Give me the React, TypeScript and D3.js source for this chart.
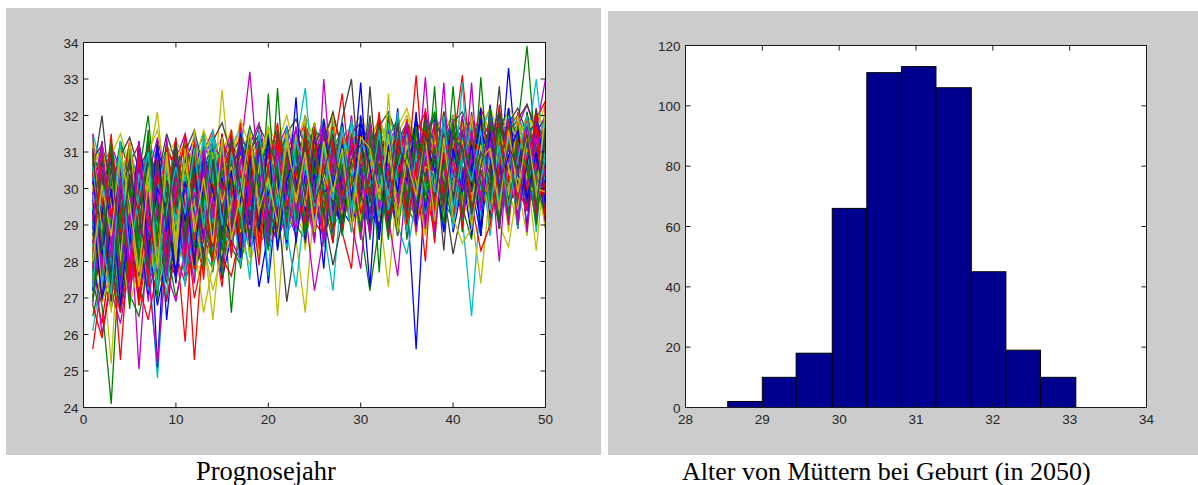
import React from "react";
import * as d3 from "d3";

// ---------- Left chart: 50 projection years, simulated runs (values read/estimated from picture) ----------
const years: number[] = d3.range(1, 51);
const yTicksLeft: number[] = [24, 25, 26, 27, 28, 29, 30, 31, 32, 33, 34];
const xTicksLeft: number[] = [0, 10, 20, 30, 40, 50];
const runColors: string[] = ["#0000FF", "#008000", "#FF0000", "#00BFBF", "#BF00BF", "#BFBF00", "#404040"];

const simulationRuns: number[][] = [
  [29.4,28.1,30.2,29.0,28.5,30.6,29.1,28.4,29.9,30.3,29.2,30.5,28.9,29.8,30.9,29.5,28.8,30.4,31.0,29.7,30.6,29.4,31.2,30.1,29.6,30.8,31.4,29.9,30.5,31.1,30.2,29.5,31.0,30.6,29.8,25.6,30.4,31.3,30.1,30.9,29.6,31.2,30.7,30.0,31.5,30.3,29.9,31.1,30.6,31.4],
  [27.9,26.8,24.1,28.6,29.3,27.8,29.9,28.7,30.1,29.2,28.5,30.0,29.4,28.3,30.7,29.6,30.2,29.0,30.8,31.3,29.9,30.4,31.0,29.7,30.9,30.2,29.4,31.1,30.6,29.8,31.2,30.5,29.9,31.4,30.8,30.1,31.0,29.6,30.7,31.5,30.3,29.8,31.2,30.6,30.0,31.3,30.9,30.2,31.6,30.5],
  [25.6,27.5,28.9,27.2,29.6,28.4,30.2,29.1,27.9,30.5,29.3,25.3,28.8,30.1,29.0,30.6,29.5,28.7,30.3,29.9,31.0,30.2,29.3,30.7,31.2,29.8,30.4,31.5,30.0,29.6,30.8,31.3,30.1,29.7,31.0,30.6,29.9,31.4,30.5,31.1,30.2,30.9,31.6,30.4,29.8,31.3,30.7,32.0,30.9,31.7],
  [30.9,29.5,30.4,28.8,29.9,30.7,28.2,24.8,28.6,29.8,30.4,29.1,30.0,30.9,29.3,28.6,30.5,29.8,31.1,30.2,29.5,31.0,30.3,29.7,30.8,31.3,30.0,29.4,31.2,30.6,29.9,30.7,31.4,30.2,29.6,30.9,31.2,30.4,29.8,31.0,30.6,30.0,31.3,29.7,30.8,31.5,30.3,29.9,31.1,30.4],
  [28.7,30.1,29.2,28.0,29.5,25.05,28.9,30.3,29.6,28.4,29.9,30.6,29.2,28.8,30.4,29.7,31.0,33.2,30.1,29.4,30.6,31.2,29.8,30.3,31.0,30.5,29.6,30.9,31.4,30.1,30.7,29.9,30.4,31.3,30.8,30.0,31.1,30.5,29.7,31.2,31.0,30.3,29.9,31.4,30.7,30.2,31.5,30.8,30.1,31.2],
  [29.8,28.2,25.2,29.4,30.6,29.0,28.5,30.1,29.3,30.8,29.5,28.6,30.2,29.7,32.7,30.0,29.2,30.5,31.0,29.8,30.3,29.5,30.9,31.4,30.1,29.7,30.6,31.1,30.2,30.8,31.3,30.4,29.8,30.7,31.2,30.0,30.5,31.4,29.9,30.6,31.1,30.5,29.9,30.8,31.5,30.2,30.9,31.3,30.4,30.0],
  [30.3,32.0,29.6,30.8,28.9,29.7,30.5,29.2,30.0,29.4,30.7,29.9,28.8,30.3,29.6,30.9,30.1,29.5,30.6,31.2,29.8,30.5,31.1,30.0,29.4,30.9,31.3,30.2,29.7,30.8,31.0,30.3,29.6,31.2,30.5,29.9,31.1,30.6,30.0,31.4,30.1,30.8,31.2,29.7,30.6,31.3,30.4,30.9,31.5,30.2],
  [28.3,29.5,27.6,30.2,29.0,28.1,30.4,25.1,29.7,28.9,30.2,29.4,30.8,29.1,28.7,30.5,29.8,31.0,29.3,30.1,30.8,29.6,30.2,31.3,29.9,30.4,31.0,29.5,30.7,31.2,29.8,30.9,31.5,30.3,29.7,30.6,31.2,30.0,31.3,30.5,29.9,31.0,30.6,31.4,30.2,33.3,30.4,30.7,31.1,30.3],
  [30.5,29.1,28.4,29.9,30.7,29.4,28.6,30.0,29.2,30.4,28.9,29.8,30.6,29.5,30.2,31.0,29.7,30.4,29.1,30.8,31.3,30.0,29.6,30.9,31.4,30.3,29.8,31.2,30.7,30.1,30.6,31.3,30.2,29.9,31.0,30.5,31.4,30.1,30.8,29.7,31.2,30.6,30.0,31.3,30.9,30.4,31.7,33.9,30.8,31.4],
  [29.1,30.4,28.6,25.3,28.8,30.0,29.5,28.3,30.6,29.2,30.0,29.3,30.7,29.8,29.1,30.4,31.1,29.6,30.2,30.9,29.7,30.6,31.2,30.1,29.5,31.0,30.5,29.9,31.3,30.4,30.0,31.1,30.7,29.8,30.9,31.4,30.2,29.6,30.8,31.2,33.1,30.5,29.9,31.2,30.6,31.5,30.1,30.8,31.3,30.0],
  [27.4,28.8,30.1,29.3,27.7,29.6,30.5,28.9,29.4,30.2,29.6,30.4,28.9,30.1,29.7,30.6,29.3,30.9,30.3,29.8,30.5,31.1,29.7,30.2,30.8,29.9,31.3,30.6,30.0,31.0,30.4,29.8,30.9,31.2,30.3,29.7,30.6,31.3,30.1,30.7,29.2,26.5,29.8,31.0,30.4,30.9,31.4,30.2,30.7,31.3],
  [29.9,28.6,29.4,30.5,28.3,29.8,29.0,30.3,28.7,29.6,30.5,29.0,29.7,30.8,30.2,29.4,30.7,29.9,31.2,30.4,29.9,30.8,30.3,29.6,31.1,30.7,30.1,29.8,30.9,31.4,30.2,30.8,29.5,31.0,31.5,30.4,29.9,30.7,31.2,30.3,30.8,31.3,30.2,29.9,31.1,30.5,31.0,30.3,31.6,33.0],
  [28.0,29.3,30.5,28.7,29.8,28.5,30.7,32.1,29.5,28.8,29.7,30.2,29.0,30.6,29.4,30.0,30.8,29.5,30.4,31.0,30.2,29.8,30.7,31.2,30.0,30.5,29.7,31.1,30.6,30.2,30.9,31.3,30.1,30.5,29.9,31.0,30.7,30.3,31.1,30.6,30.1,29.3,27.4,30.0,30.8,31.2,30.4,30.9,31.3,30.6],
  [28.9,27.6,29.0,30.1,28.4,29.5,28.7,29.9,30.6,29.3,28.8,30.1,29.5,28.9,30.4,29.8,30.5,30.0,29.4,30.7,31.0,30.4,29.8,30.6,31.3,30.2,29.9,30.8,31.2,30.5,29.9,30.6,31.1,30.3,30.8,31.3,30.0,29.7,31.0,30.4,30.9,31.4,30.3,30.7,29.9,31.2,30.6,31.1,30.2,30.8],
  [30.6,29.2,28.7,29.8,30.3,28.6,29.4,30.2,26.4,29.0,30.3,28.7,29.6,30.5,29.9,29.2,30.1,30.7,29.6,30.3,29.5,30.3,31.0,30.6,29.7,31.2,30.4,30.0,31.0,29.8,30.5,31.2,30.0,30.7,31.3,29.9,30.6,31.1,30.4,29.8,30.7,31.1,30.5,30.2,31.3,30.8,29.9,31.2,30.5,31.0],
  [29.5,28.4,29.8,27.9,29.1,30.4,32.0,29.3,28.5,29.7,30.1,29.5,30.9,29.2,30.3,26.6,29.5,30.2,30.8,29.7,30.4,31.0,30.1,29.5,30.7,31.3,30.3,29.8,30.4,31.1,30.6,30.0,31.2,30.8,30.2,30.7,29.8,31.2,30.6,30.1,31.3,30.7,30.1,30.9,31.4,29.8,30.6,31.5,30.2,30.9],
  [28.5,30.0,29.3,28.2,30.2,29.1,27.9,29.6,30.3,28.7,25.8,29.6,30.3,29.4,30.7,29.9,29.2,30.6,30.0,31.1,30.2,29.6,30.5,31.1,30.3,29.8,30.9,31.2,29.9,30.6,31.2,30.4,29.8,30.9,30.3,31.1,30.7,29.9,31.3,30.5,30.4,31.0,30.6,31.3,30.0,30.7,31.2,30.4,29.8,31.5],
  [29.2,30.5,28.5,29.6,28.1,30.0,29.2,28.6,30.1,29.5,29.0,30.2,29.7,28.9,30.5,30.1,29.4,30.3,31.0,29.6,30.1,30.7,29.9,31.1,30.4,29.6,30.8,30.3,31.2,30.0,30.7,31.1,30.3,29.6,30.9,30.4,31.2,30.8,30.1,30.9,30.5,30.2,30.8,31.4,30.3,30.9,30.4,31.2,33.0,30.6],
  [27.8,29.0,30.3,29.1,28.6,29.9,28.4,29.7,29.0,30.5,29.4,30.8,29.2,30.3,29.5,30.6,30.0,29.6,30.8,29.9,30.7,30.1,29.6,30.8,30.4,31.1,29.8,30.6,30.1,31.3,30.3,29.8,30.9,31.3,30.1,30.6,29.9,31.2,30.5,30.8,31.1,30.4,30.9,30.2,31.0,31.3,30.6,30.0,30.8,31.4],
  [29.6,28.3,29.9,28.8,30.1,29.4,28.6,30.0,29.3,28.9,30.2,29.7,28.8,30.4,29.1,30.0,30.6,29.3,30.1,30.5,26.5,29.8,30.5,29.9,31.0,30.3,29.7,30.9,31.1,30.2,29.8,30.7,31.2,30.4,30.0,31.0,30.5,29.9,31.3,30.6,30.2,31.0,30.5,29.8,31.1,30.6,31.3,30.4,28.3,30.9],
  [29.0,30.2,28.1,29.4,30.0,28.9,29.8,28.5,29.9,30.7,29.5,28.9,30.4,29.7,29.2,30.8,29.6,30.2,29.0,30.5,30.1,29.7,30.9,30.3,29.8,30.5,31.1,30.0,30.7,29.9,30.8,30.2,29.7,31.1,30.5,30.0,30.8,31.4,30.2,29.9,31.0,30.5,31.2,30.1,30.6,29.9,31.1,30.7,31.0,30.3],
  [27.0,28.4,26.9,28.9,27.6,29.2,28.1,27.5,29.0,28.3,29.4,28.6,29.9,28.8,30.2,29.5,28.7,29.8,30.4,29.2,30.0,29.4,30.6,29.9,30.3,29.5,30.8,30.2,29.6,30.5,30.1,29.7,30.6,31.0,29.8,30.4,30.9,29.6,30.3,31.0,30.0,30.6,29.5,30.8,30.3,31.1,29.9,30.5,31.2,29.8],
  [28.8,27.3,28.5,26.6,28.7,27.9,29.4,28.2,27.4,29.1,28.3,29.6,28.9,29.9,28.6,29.5,30.0,28.8,29.7,30.3,29.4,30.1,29.6,30.7,29.9,30.4,29.3,30.6,30.9,29.7,30.4,30.9,29.8,30.3,31.1,30.0,29.6,30.7,31.2,30.2,29.8,30.6,31.1,30.0,29.6,30.8,31.3,30.1,30.7,29.9],
  [27.5,26.3,28.2,27.0,28.9,26.8,28.4,27.7,29.2,28.0,28.7,27.6,29.3,28.5,29.8,28.9,29.5,30.1,28.8,29.6,30.3,29.5,30.0,29.2,30.6,30.1,29.7,30.9,30.3,29.6,30.5,29.9,30.8,30.2,29.7,30.9,30.4,29.8,30.6,31.1,30.3,29.7,30.8,31.2,30.1,29.8,30.6,31.0,30.2,29.5],
  [26.1,27.8,28.6,27.4,29.0,28.1,27.2,28.8,27.9,29.3,28.4,29.1,28.0,29.6,28.7,29.9,29.2,28.6,30.0,29.4,29.0,30.2,29.7,30.5,29.4,30.0,30.7,29.6,30.3,30.8,29.9,30.5,30.1,29.6,30.7,31.0,30.2,30.6,29.9,30.4,31.0,30.3,29.7,30.5,30.9,30.1,30.6,29.9,30.4,31.1],
  [28.3,26.0,27.6,28.8,27.2,28.5,27.7,25.2,28.3,27.9,29.0,28.2,29.5,28.7,28.1,29.3,28.9,29.8,29.1,29.7,29.3,30.0,29.6,29.1,30.4,29.8,30.2,29.5,30.7,30.0,29.6,30.3,30.8,29.9,30.4,29.7,30.6,30.1,29.5,30.7,30.2,29.6,30.4,30.9,29.8,30.3,30.8,29.6,30.4,30.0],
  [29.2,27.7,28.9,27.3,28.6,29.5,27.8,29.0,28.4,29.6,28.2,29.3,28.7,26.4,29.0,28.5,29.4,29.9,28.8,30.1,29.4,29.9,30.4,29.5,30.1,29.6,30.5,29.8,30.2,29.4,30.6,30.1,29.5,30.7,30.3,29.8,30.2,30.9,30.4,29.7,30.5,30.9,30.2,29.6,30.7,30.1,29.5,30.6,29.9,30.4],
  [27.2,28.6,27.9,26.7,28.4,27.5,29.0,28.1,26.9,28.7,28.0,28.9,29.4,28.3,29.6,28.8,29.3,28.6,29.9,29.2,29.7,29.1,30.0,29.6,29.2,30.3,29.8,30.1,29.4,30.5,30.0,29.5,30.4,30.8,29.7,30.2,29.9,30.6,31.0,29.8,30.4,30.8,29.9,30.3,30.6,29.5,30.2,30.7,30.0,30.5],
  [29.7,30.8,29.4,30.5,29.8,30.9,29.6,31.1,30.2,29.5,30.7,31.4,30.3,29.9,31.2,30.5,31.0,30.2,31.5,30.8,30.4,31.3,30.7,31.6,30.9,30.2,31.4,30.8,31.2,31.7,30.6,31.3,31.0,30.5,31.5,30.9,31.8,31.2,30.7,31.4,31.0,31.7,30.8,31.3,31.9,31.1,30.6,31.5,31.8,31.2],
  [31.0,30.2,29.8,31.3,30.4,29.6,30.9,30.1,31.2,30.5,29.9,30.8,31.5,30.4,30.0,31.1,30.6,31.7,30.9,30.3,31.2,30.6,31.5,30.9,31.8,30.5,31.1,31.6,30.8,31.3,31.7,30.9,31.4,31.9,30.8,31.2,31.6,30.9,31.5,32.0,31.1,31.6,31.3,30.9,31.7,32.1,31.2,31.6,30.9,31.4],
  [30.1,31.1,30.4,29.5,30.7,31.2,30.0,29.8,31.0,30.6,31.3,30.5,31.0,31.6,30.4,31.2,30.8,31.4,30.3,31.1,31.5,30.7,31.2,31.8,30.9,31.4,32.0,31.1,31.6,30.9,31.3,31.9,31.2,31.6,30.8,31.5,32.1,31.0,31.7,31.3,31.8,31.2,32.2,31.5,30.9,31.7,32.0,31.3,31.9,32.4],
  [31.5,30.6,31.1,30.3,31.2,30.0,31.3,30.7,29.9,31.0,30.4,31.2,30.8,31.5,30.6,31.1,31.7,30.5,31.3,30.9,31.6,31.0,30.7,31.5,31.2,31.9,30.9,31.4,31.7,31.1,31.5,31.0,32.0,31.3,31.7,31.1,31.5,32.1,31.2,31.6,31.3,31.9,31.5,32.2,31.0,31.6,32.0,31.4,31.8,31.2],
  [30.7,29.9,31.2,30.5,29.7,31.0,30.3,31.4,30.1,30.8,31.5,30.2,30.9,31.3,30.7,31.6,30.4,31.2,31.8,30.6,31.1,31.7,30.8,31.4,31.0,31.6,31.2,30.9,31.8,31.3,30.9,31.7,31.3,31.0,31.8,31.4,30.9,31.6,32.0,31.2,31.6,31.1,31.9,31.4,32.1,31.2,31.7,32.3,31.5,32.0],
  [31.3,30.4,30.9,31.5,30.6,29.9,31.0,31.6,30.3,30.9,31.2,30.7,31.6,30.9,31.4,30.6,31.9,31.1,30.8,31.5,30.9,31.6,31.2,32.0,31.3,30.9,31.7,31.4,31.0,31.8,31.4,31.9,31.2,31.7,32.2,31.3,31.8,31.1,31.6,32.0,31.7,31.2,32.0,31.6,31.3,32.2,31.8,31.4,32.1,31.6],
  [30.8,31.2,30.1,30.9,31.4,30.5,31.1,30.2,31.5,30.7,31.0,31.6,30.5,31.3,31.8,30.9,31.4,31.0,31.7,31.2,30.8,31.5,31.9,31.1,31.6,31.3,32.1,31.0,31.5,31.8,31.2,31.7,32.1,31.4,31.0,31.8,31.5,32.0,31.3,31.8,32.1,31.4,31.8,31.1,32.0,31.5,31.9,32.3,31.6,31.9],
  [27.8,26.9,28.3,27.4,28.8,27.1,28.5,26.8,28.1,27.6,28.9,27.9,28.4,29.2,27.5,28.7,29.4,28.3,29.0,28.6,29.3,28.8,29.7,29.1,29.5,28.9,29.9,29.4,29.0,29.8,29.3,29.9,29.5,30.1,29.2,29.7,30.2,29.4,29.9,30.3,29.6,30.1,29.4,29.9,30.4,29.7,30.2,29.5,30.0,30.5],
  [26.5,27.7,26.7,28.0,27.1,26.5,27.9,27.2,28.4,27.0,28.2,27.6,28.7,28.0,29.1,28.4,27.9,29.3,28.6,29.0,28.7,29.5,29.0,28.6,29.8,29.2,29.6,28.9,30.1,29.5,29.1,29.8,29.4,30.0,29.5,29.0,29.9,30.3,29.6,29.2,30.0,29.4,30.2,29.8,29.3,30.1,29.7,30.4,29.9,29.4],
  [26.8,25.9,27.5,26.6,28.0,27.3,26.4,27.8,27.0,28.2,27.4,28.5,27.8,28.9,28.1,27.6,28.8,29.2,28.4,29.0,28.6,29.3,28.9,29.6,29.1,28.7,29.5,29.9,29.2,29.7,29.4,28.9,29.8,30.1,29.3,29.7,30.2,29.5,29.9,30.4,29.7,30.2,29.5,29.9,30.3,29.6,30.0,29.4,30.1,29.8],
  [28.6,27.3,28.0,29.1,27.7,28.9,27.6,28.4,27.5,28.8,27.9,29.0,28.3,27.8,28.9,29.5,28.4,28.9,29.6,28.7,29.4,28.8,29.2,29.9,29.3,29.7,28.9,29.5,30.0,29.4,29.9,29.2,29.7,30.2,29.5,29.9,29.3,30.0,30.4,29.6,30.1,29.7,30.3,29.6,30.2,30.6,29.8,30.3,29.7,30.1],
  [27.4,28.7,27.2,26.3,27.9,28.5,27.0,28.3,27.7,26.9,28.4,27.7,28.9,28.1,29.4,28.6,28.0,29.1,28.5,29.5,28.9,29.4,28.7,29.8,29.2,29.6,29.0,29.8,29.3,30.0,29.5,30.1,29.3,29.7,30.2,29.4,29.9,30.3,29.7,30.0,29.6,30.3,29.9,30.5,29.8,30.2,29.5,30.1,30.6,29.9],
  [28.1,26.9,27.6,28.5,26.8,27.9,28.7,27.2,28.3,27.8,28.6,28.0,27.7,28.9,28.3,29.2,28.6,27.9,29.0,28.8,29.5,28.9,29.3,28.7,29.7,29.1,29.6,30.0,29.2,29.8,29.3,29.8,30.2,29.6,29.1,29.9,30.3,29.5,29.8,30.1,29.6,29.2,30.0,30.4,29.7,29.9,30.3,29.6,30.1,30.5],
  [27.7,29.0,27.4,28.2,29.3,27.6,28.5,28.9,27.4,28.6,29.2,28.5,29.0,28.4,29.6,28.9,29.3,29.9,29.0,29.5,29.1,29.8,29.3,29.9,30.2,29.4,29.8,30.3,29.6,30.0,30.4,29.8,30.1,29.6,30.3,30.6,29.9,30.2,29.7,30.5,30.0,30.4,29.8,30.6,30.1,30.5,29.9,30.3,30.7,30.2],
  [29.9,28.9,30.6,29.3,28.7,30.2,29.0,29.8,30.4,28.8,29.8,30.6,29.4,30.0,30.8,29.5,30.3,29.7,30.7,31.2,30.3,30.9,29.9,31.1,30.6,30.2,31.0,30.5,31.3,30.7,30.1,31.0,30.6,31.2,30.4,31.1,30.8,30.3,31.5,30.9,31.2,30.6,31.4,30.9,30.5,31.2,30.8,31.6,30.9,31.3],
  [29.3,30.3,29.0,30.0,29.5,28.8,30.1,29.4,30.7,29.9,30.4,29.7,30.5,31.0,29.8,30.6,30.2,31.1,30.5,29.9,30.8,31.2,30.4,30.9,31.3,30.6,30.1,31.0,31.5,30.7,31.1,30.5,31.3,30.8,31.4,31.0,30.6,31.3,30.9,31.6,30.8,31.4,31.0,31.7,30.9,31.3,31.8,31.1,30.7,31.5],
  [29.6,28.7,29.9,29.2,30.4,28.8,29.5,30.3,29.1,30.0,30.6,29.9,29.4,30.7,30.1,30.5,31.0,30.3,29.8,30.9,30.5,31.2,30.0,30.8,31.4,30.7,30.3,31.1,30.6,31.3,30.7,31.2,30.9,31.5,30.6,31.0,31.4,30.8,31.2,31.7,31.1,30.7,31.3,31.8,31.0,31.4,30.9,31.6,31.2,31.0],
  [30.2,29.6,30.7,29.9,29.3,30.5,29.8,30.4,29.7,31.0,30.0,30.7,30.3,29.7,31.1,30.4,30.9,31.3,30.1,30.7,31.0,30.4,31.4,30.7,30.3,31.2,30.9,31.5,30.8,31.1,31.5,30.9,31.2,31.6,31.0,30.7,31.4,31.1,31.7,31.3,31.6,31.0,31.5,31.2,31.8,31.4,31.1,31.7,31.3,31.9],
  [30.4,29.4,28.9,30.1,29.6,30.6,29.3,28.9,30.2,29.8,30.5,31.2,30.0,30.6,29.6,31.0,30.3,30.8,31.4,30.2,30.6,31.0,31.6,30.5,30.9,31.4,30.8,30.4,31.2,31.6,31.0,30.6,31.3,31.7,30.9,31.2,31.6,31.0,30.8,31.5,31.3,31.7,30.9,31.4,31.8,31.1,31.5,30.9,31.7,31.2],
  [30.6,31.1,29.7,30.3,31.2,29.8,30.6,29.5,30.9,31.3,30.8,30.2,31.4,30.6,31.0,31.6,30.5,31.3,30.9,31.7,31.2,32.0,30.9,31.5,31.1,31.8,31.3,30.8,31.6,32.0,31.4,31.8,31.1,31.5,32.0,31.2,31.7,31.4,32.1,31.5,31.9,31.3,31.7,32.2,31.5,31.9,31.3,32.0,31.6,32.3],
  [29.4,30.0,30.8,29.1,30.3,29.7,31.0,30.4,29.6,30.5,31.1,30.4,30.9,30.2,31.3,30.7,30.2,31.0,31.5,30.6,31.3,30.8,31.5,30.9,31.2,31.7,30.9,31.4,31.0,31.6,31.2,31.6,30.9,31.3,31.8,31.1,31.5,31.9,31.2,31.7,31.4,31.9,31.2,31.6,31.1,31.8,32.2,31.5,31.8,31.3],
  [27.2,30.8,28.0,31.2,27.6,29.9,31.0,27.9,30.6,28.4,31.0,28.2,30.9,29.1,31.5,28.6,30.3,31.6,28.9,31.2,29.0,31.7,29.6,32.0,29.3,31.4,28.8,31.8,30.0,32.9,29.2,31.6,29.8,32.2,29.5,31.3,28.9,31.9,30.1,32.0,29.4,31.8,29.0,32.3,30.2,31.5,29.3,32.1,29.8,31.6],
  [30.6,27.8,29.9,26.9,30.8,28.5,27.3,31.0,28.2,30.4,28.0,30.9,27.9,31.3,29.0,30.6,28.4,31.1,29.6,28.7,32.75,29.1,31.5,28.6,30.8,29.4,32.0,29.2,31.1,28.9,27.2,29.0,31.9,29.7,31.2,28.8,31.7,29.3,32.1,29.6,31.4,28.9,31.8,29.5,32.2,29.0,31.5,29.8,32.0,29.2],
  [28.3,31.1,27.0,29.8,31.3,27.4,30.2,28.6,31.2,27.7,30.1,28.3,31.4,28.8,30.5,29.3,31.8,28.5,30.9,29.7,28.6,31.4,29.9,28.9,31.7,29.5,31.0,32.6,30.0,29.8,30.2,32.1,29.4,31.5,29.0,31.9,30.0,28.8,31.6,29.6,32.0,29.5,31.2,29.9,32.3,29.3,31.7,30.1,32.2,29.7],
  [29.5,27.1,31.0,28.3,30.5,27.5,31.1,28.9,27.8,30.7,29.2,27.6,30.8,28.4,31.0,29.5,28.2,31.3,29.0,31.0,29.8,28.5,31.2,32.75,29.9,28.9,27.2,30.2,28.8,31.5,29.4,31.8,28.9,31.1,29.7,32.0,29.1,31.4,28.9,31.9,29.6,31.3,28.7,31.9,30.3,29.0,32.0,29.6,31.8,30.1],
  [26.8,29.6,30.9,27.3,29.2,31.1,26.9,30.3,28.7,31.0,27.8,30.6,29.4,31.2,27.9,30.4,29.1,31.5,28.4,30.2,31.5,28.8,30.9,29.9,28.5,33.0,29.8,31.2,28.9,31.7,29.1,31.3,30.0,28.7,31.8,29.4,32.1,29.8,32.9,28.9,31.6,30.1,29.2,31.9,29.6,32.2,29.3,31.4,30.0,32.1],
  [31.4,28.7,26.6,30.6,28.1,31.2,29.0,27.3,30.9,28.2,30.5,27.4,29.8,31.3,28.6,29.9,31.4,28.3,30.7,31.6,29.3,30.9,28.6,26.6,29.7,30.6,32.0,29.0,30.5,31.8,28.9,31.0,31.9,29.3,30.8,28.7,31.6,30.4,29.2,31.9,30.6,29.1,31.7,29.8,31.2,28.8,32.0,30.3,29.5,31.7],
  [27.9,30.3,28.5,31.1,29.4,27.6,30.8,29.1,31.0,27.8,31.3,28.9,30.0,27.9,31.2,29.3,30.7,28.6,31.5,29.0,30.5,28.3,31.6,29.7,31.0,29.2,30.4,31.9,33.0,29.9,32.0,29.7,31.4,29.2,31.8,30.5,29.4,31.7,29.9,28.2,29.5,32.1,30.0,31.5,29.4,31.9,30.6,29.8,32.2,29.9],
  [30.2,28.6,31.3,27.5,30.0,28.8,27.1,30.5,29.6,27.4,29.9,31.2,28.1,30.6,28.9,31.4,28.5,29.6,27.3,28.8,31.0,29.6,32.5,28.7,30.7,31.5,28.6,31.0,29.4,32.0,30.3,28.9,31.7,30.0,31.2,29.2,31.9,29.6,31.0,29.3,31.5,29.7,32.2,29.0,31.1,30.4,31.8,29.4,31.3,28.9],
  [29.0,31.3,28.3,30.1,26.7,30.9,28.6,31.2,27.9,30.0,28.6,31.1,29.6,27.8,30.9,28.7,31.3,29.4,28.9,32.6,29.1,31.2,28.9,30.4,31.8,29.0,31.3,29.8,31.6,28.7,31.1,29.5,32.0,28.8,31.3,29.9,31.0,32.1,29.2,31.5,28.8,31.4,30.0,32.0,29.1,31.6,28.9,32.1,30.4,31.9],
  [31.2,29.0,27.4,31.3,28.8,26.9,30.6,27.7,29.8,31.4,28.4,30.2,27.5,31.0,29.7,28.3,31.1,30.0,28.3,30.9,28.7,31.5,30.1,29.0,31.2,28.8,31.7,29.5,31.1,30.4,28.8,31.5,29.6,32.0,30.3,33.1,29.9,29.8,31.9,29.5,31.2,29.0,31.9,30.5,29.3,31.8,29.6,32.0,29.2,32.4],
  [28.4,30.7,29.2,26.8,31.0,29.5,27.2,30.0,28.5,31.2,27.3,29.7,31.3,29.0,30.4,28.2,30.8,29.5,31.3,28.6,31.1,29.5,30.3,31.6,28.9,31.1,29.6,31.9,29.3,30.8,31.8,29.5,30.9,29.0,28.2,29.7,31.3,28.8,31.4,29.9,32.9,29.4,31.0,30.3,31.6,29.2,32.0,30.0,29.6,31.9],
  [30.8,27.5,29.5,31.1,27.0,29.4,31.3,28.1,30.6,27.6,31.1,29.3,28.6,30.9,28.1,31.2,29.9,31.4,28.7,30.1,30.0,28.6,31.3,29.4,27.2,28.7,30.9,29.6,32.0,29.0,31.5,30.5,29.0,31.6,29.3,30.0,33.05,29.6,31.6,29.1,30.3,31.8,29.5,31.4,28.9,31.9,29.7,31.5,30.6,29.4],
  [27.6,29.8,28.4,30.8,27.8,31.0,29.1,27.6,31.3,29.0,30.3,28.2,31.1,28.0,30.6,29.0,31.6,28.9,30.6,31.5,28.5,30.7,29.4,32.0,29.2,30.8,28.9,31.5,30.0,28.6,31.0,29.4,27.3,30.2,28.8,31.1,29.8,31.6,29.0,32.0,29.6,31.2,30.4,29.1,31.7,30.0,29.0,31.9,29.9,31.0],
  [31.1,28.0,30.4,27.7,30.9,29.9,28.4,31.1,27.9,29.5,30.8,27.8,30.3,29.5,28.4,31.0,28.6,30.5,28.9,31.4,29.6,26.9,28.6,30.8,29.3,31.7,29.5,30.5,31.3,29.2,32.8,29.6,29.3,30.9,31.6,29.0,31.1,30.5,28.9,31.7,30.2,29.5,31.7,29.3,32.0,30.2,31.4,29.5,31.7,30.8],
  [29.7,27.3,30.9,28.9,27.7,30.4,28.0,31.0,29.3,27.9,31.4,28.7,30.0,29.6,31.5,28.4,29.7,31.0,29.4,28.5,31.1,29.3,31.5,30.1,28.9,31.8,29.7,28.9,31.0,30.5,27.3,31.3,29.9,31.7,29.0,31.4,30.6,29.3,32.0,29.8,31.2,30.1,28.7,31.6,29.5,32.2,30.4,29.7,31.5,30.0],
  [27.0,30.1,28.9,31.2,28.3,29.0,30.8,27.5,30.4,28.6,30.0,28.6,31.2,27.7,30.5,29.4,31.2,28.1,30.9,29.4,28.8,31.0,29.6,31.2,28.6,30.9,31.4,29.0,31.7,29.6,31.9,29.6,31.2,28.9,30.7,31.9,29.5,31.2,30.2,29.0,31.7,29.4,33.05,29.9,32.1,29.3,31.0,30.5,29.1,32.0],
  [30.4,29.2,31.5,27.9,30.1,26.8,29.7,30.7,28.2,31.2,29.5,27.8,30.6,28.8,27.3,30.0,27.9,30.4,29.2,31.3,29.9,28.9,31.4,28.7,30.5,29.1,31.5,28.9,30.7,31.6,29.4,32.0,29.2,30.4,31.5,29.4,32.2,29.7,30.7,29.2,31.9,29.8,31.3,28.8,31.6,30.3,29.4,32.0,29.3,31.6],
  [28.9,31.2,27.6,29.5,30.9,28.2,31.1,28.6,27.1,30.3,28.6,30.5,29.4,31.6,29.0,28.2,31.0,29.3,31.1,29.9,31.5,28.8,27.3,29.6,31.5,28.4,30.3,31.3,29.1,31.0,29.1,30.5,28.8,31.6,30.3,29.3,31.5,28.6,31.3,30.3,29.4,31.5,30.0,29.5,31.9,29.5,30.9,29.0,31.3,30.2],
  [31.5,27.9,28.8,30.3,27.4,30.8,29.4,31.3,28.3,30.1,27.6,29.3,30.9,28.1,31.1,29.7,30.2,28.7,31.6,29.0,30.6,29.9,28.7,31.6,29.4,31.0,28.9,31.4,29.1,27.8,30.6,29.0,31.5,29.2,30.6,29.9,31.7,29.2,30.3,31.6,29.7,32.9,29.3,32.2,29.7,30.8,31.4,29.6,31.8,29.3],
  [28.6,30.5,27.4,30.9,29.2,28.1,30.2,27.2,29.4,31.1,29.7,31.6,28.4,29.9,28.1,30.8,29.2,31.3,28.0,30.4,31.1,29.2,30.5,28.4,31.8,29.5,31.5,29.3,31.7,28.7,31.3,29.2,30.8,31.4,28.9,30.6,28.8,31.7,30.3,29.5,31.3,28.9,31.9,30.2,29.0,28.4,30.1,28.7,31.4,29.4],
  [30.0,28.2,31.1,29.3,30.6,27.7,31.0,28.0,29.9,27.5,30.6,28.0,29.8,31.3,28.5,30.7,28.5,31.6,29.5,29.0,30.2,31.5,29.4,31.1,28.7,31.3,29.0,30.5,28.9,31.3,29.5,31.8,29.9,28.9,31.2,30.3,28.9,30.9,28.3,31.8,30.5,29.6,32.0,29.2,30.9,29.4,31.8,30.5,29.4,31.7],
  [27.8,29.3,31.1,28.1,30.2,27.8,30.9,29.7,28.3,31.2,28.3,30.4,28.9,31.0,27.9,30.6,31.1,29.2,30.4,27.4,29.9,31.6,28.5,30.5,29.2,31.9,30.1,28.8,31.4,29.8,30.7,28.8,31.7,30.0,29.6,32.1,29.1,30.5,31.5,28.8,30.1,31.5,28.7,31.2,30.0,31.6,28.9,31.2,30.8,29.3],
  [30.9,28.6,29.4,27.2,31.2,28.1,30.2,26.9,30.5,28.0,31.0,29.0,27.8,31.0,29.4,30.8,27.8,30.2,28.6,31.3,28.4,30.3,31.4,29.0,31.0,29.7,28.5,31.2,29.6,31.6,28.6,30.7,29.4,31.3,28.6,30.9,31.5,29.4,29.8,32.8,29.5,28.6,31.5,29.6,30.8,31.3,29.1,31.6,29.9,31.2],
  [29.3,26.9,30.4,28.8,31.3,29.2,27.6,30.6,27.9,30.3,29.2,27.0,28.2,29.6,31.5,28.1,30.5,29.9,27.9,31.1,29.7,30.9,28.9,31.7,29.7,30.2,31.6,28.9,30.2,31.0,29.8,31.2,28.7,30.5,31.9,29.6,30.9,28.5,31.6,30.8,29.2,32.0,30.4,29.8,31.2,29.0,32.1,29.4,30.6,31.8],
  [27.6,30.3,28.0,31.0,28.6,30.6,27.8,29.9,31.1,29.0,27.7,30.0,29.3,30.5,28.5,31.2,29.0,28.4,31.3,30.0,31.2,28.4,30.8,30.0,29.1,30.6,28.6,31.6,30.6,29.1,31.1,30.1,29.5,32.1,29.9,31.0,29.5,31.0,29.0,30.6,31.6,29.8,31.1,28.7,30.9,31.2,29.6,31.3,28.8,31.4],
  [30.2,27.7,31.2,27.1,29.5,31.0,28.6,30.0,27.7,31.1,28.9,27.4,30.7,28.5,30.1,29.2,31.6,29.5,30.6,28.4,28.9,31.1,29.3,31.3,29.9,28.8,31.2,29.9,32.0,29.3,31.6,29.3,31.1,29.6,31.4,28.8,30.8,31.8,29.4,31.2,29.8,31.7,29.5,31.0,28.0,31.4,30.4,31.7,29.1,31.3],
  [28.1,31.2,29.6,28.0,30.5,27.3,29.1,30.8,29.6,28.1,31.0,28.5,26.6,27.9,29.7,31.1,28.8,31.5,29.2,30.8,29.6,29.0,31.1,28.3,31.3,30.2,29.6,31.0,28.8,31.4,30.5,29.1,32.6,28.9,30.9,31.5,28.8,30.2,31.4,29.9,31.8,29.8,30.6,31.7,29.4,30.5,29.7,31.1,30.3,28.9],
  [31.0,28.9,27.7,30.6,28.4,31.2,28.7,31.3,28.2,30.6,28.4,31.0,29.4,28.7,31.2,29.0,29.8,31.4,29.9,28.9,31.6,28.9,30.6,29.5,31.4,28.7,30.7,29.4,31.3,28.9,31.3,28.6,31.9,29.9,30.5,29.8,32.0,29.9,31.2,29.4,30.8,31.5,29.6,30.3,32.8,29.7,29.9,30.4,31.4,29.9],
  [28.9,30.8,27.4,30.1,28.2,31.2,29.7,28.5,30.6,27.7,30.9,29.3,31.1,28.5,30.3,28.9,31.1,29.0,31.3,29.8,31.0,28.5,31.3,29.4,30.0,31.3,29.4,31.8,29.6,30.6,29.5,31.4,30.1,29.0,31.3,29.7,31.6,29.3,30.8,31.7,29.2,30.6,31.9,29.1,31.3,29.8,31.3,28.9,32.0,30.5],
  [26.9,28.7,30.3,28.9,31.0,27.6,30.3,29.4,27.6,29.7,30.7,28.1,29.8,31.2,28.6,30.7,28.9,30.9,28.9,31.5,29.2,30.5,29.1,31.6,28.8,31.4,30.0,29.2,31.5,29.4,30.0,31.7,29.2,31.0,29.2,31.6,29.8,32.8,28.9,31.5,29.8,31.0,29.3,32.2,30.1,29.5,31.7,30.7,29.6,31.1],
  [31.0,29.7,28.4,30.7,27.4,29.6,31.2,28.4,30.9,29.4,28.7,31.3,28.9,30.1,29.3,31.6,28.3,31.0,29.7,30.5,28.8,31.4,29.9,28.9,31.1,29.6,31.5,28.8,27.8,31.0,31.5,29.2,30.4,31.7,29.3,30.4,31.1,29.0,31.4,30.8,29.6,31.5,29.1,30.9,31.8,29.5,31.0,31.6,29.3,30.6],
  [29.1,27.4,30.6,28.1,30.0,28.8,31.4,28.2,30.2,31.0,30.1,29.5,27.9,30.4,31.2,29.0,30.3,28.6,31.0,27.6,31.3,29.6,31.5,28.8,30.3,29.7,31.6,29.6,31.9,29.9,30.1,31.4,29.8,31.5,28.8,31.1,29.3,30.6,31.7,29.1,31.4,29.2,31.2,30.1,29.3,32.0,29.7,31.0,29.8,32.0],
  [28.5,30.6,29.9,27.6,31.2,28.6,29.9,27.7,31.4,28.4,29.6,28.2,31.0,29.6,27.7,30.4,31.3,29.2,30.3,28.5,31.2,29.0,30.6,30.4,28.6,31.1,29.2,30.2,31.0,28.6,30.8,30.0,29.2,27.6,30.4,28.9,31.5,29.4,31.1,29.6,32.0,29.6,30.4,31.1,28.9,30.8,31.6,28.8,31.4,29.6],
  [30.1,27.2,28.8,31.1,29.2,27.5,30.6,28.3,30.9,27.9,31.3,29.6,28.5,27.2,28.3,29.6,30.9,28.1,30.6,31.7,29.9,28.9,31.5,29.5,31.8,28.9,31.0,29.3,30.9,29.1,31.8,29.2,31.0,29.4,31.2,30.2,28.7,31.3,29.5,31.4,29.5,32.0,29.1,30.9,31.4,29.8,32.0,30.2,29.8,31.1],
  [27.5,29.9,31.0,28.3,30.3,27.6,31.0,28.0,30.2,29.7,28.6,30.3,30.8,28.8,30.2,29.0,31.5,29.1,30.4,28.8,30.7,29.8,31.2,28.5,30.5,31.5,29.5,30.7,29.0,31.4,29.3,31.1,30.6,29.1,31.6,29.8,31.0,29.3,32.1,29.7,30.6,29.5,31.3,30.0,32.1,29.4,30.9,29.6,31.1,30.6],
  [30.3,28.2,30.0,26.8,29.2,30.6,28.9,31.2,28.8,30.7,29.1,30.6,28.6,31.3,29.3,28.7,31.5,28.4,31.1,29.6,29.3,31.4,30.2,29.0,30.4,27.8,31.3,30.0,29.8,31.6,28.9,31.2,29.0,30.7,30.2,31.9,29.4,30.9,29.1,31.5,30.4,28.7,31.6,30.8,29.5,31.4,29.3,30.7,31.8,29.5],
  [28.1,31.1,27.3,29.2,31.2,27.9,30.1,28.7,31.0,28.5,31.2,28.4,29.7,30.8,27.6,31.1,29.1,30.6,28.6,30.7,28.4,30.7,28.9,31.1,30.5,29.2,31.3,28.7,30.7,30.2,31.7,27.7,31.4,28.7,31.0,29.5,31.8,29.3,30.7,29.3,31.2,30.3,29.4,31.8,29.0,31.7,29.6,31.5,30.2,29.2],
  [30.5,28.4,31.3,29.4,28.0,30.8,27.3,30.7,28.1,31.3,28.1,30.8,28.8,30.1,29.6,31.3,28.4,29.8,31.4,29.3,31.4,28.9,29.9,31.4,29.3,30.7,28.5,31.4,29.5,31.0,29.6,31.2,29.3,31.4,29.8,30.6,28.0,31.7,29.7,31.6,28.9,31.4,31.0,29.4,31.5,29.4,31.4,29.9,32.0,29.7],
  [27.3,30.2,28.9,31.3,27.8,30.4,29.3,27.2,30.6,29.1,30.4,28.6,31.5,28.2,30.8,29.6,27.9,31.0,29.6,31.2,29.5,31.7,28.8,30.7,29.6,31.2,29.0,30.9,28.8,31.2,31.0,29.2,31.8,30.1,28.9,31.1,30.0,29.5,31.1,28.9,30.7,31.7,29.2,31.1,29.6,31.4,28.9,31.8,30.3,31.0],
  [29.8,31.3,28.1,30.1,29.0,31.0,27.8,29.5,28.6,31.0,28.3,29.9,28.5,31.0,29.9,29.1,31.2,28.5,30.1,31.1,29.1,30.3,31.7,29.7,28.9,31.7,30.4,29.5,31.2,29.4,31.8,29.4,30.6,31.2,29.7,31.3,28.9,31.2,29.5,31.9,29.2,30.9,29.8,31.8,30.5,29.1,31.2,30.1,31.6,30.3],
  [31.2,28.8,30.6,28.0,31.3,28.9,30.5,28.1,30.8,28.6,30.7,29.1,27.9,31.0,29.6,30.6,29.3,31.4,28.6,30.3,28.6,31.3,29.6,30.8,29.0,30.4,29.7,31.6,30.3,29.5,30.7,29.9,31.3,28.8,31.5,29.0,30.6,30.4,29.2,31.3,31.3,29.6,31.2,28.9,31.6,30.6,29.4,31.6,29.7,32.2],
  [28.7,30.4,26.9,29.7,30.8,28.8,31.3,29.6,28.0,31.0,29.9,31.0,29.1,28.4,30.8,28.8,31.4,30.4,29.1,31.3,30.5,28.9,31.2,29.8,31.5,29.3,27.9,29.1,31.4,29.9,28.8,31.4,30.0,31.8,29.4,31.2,30.3,29.8,31.5,29.6,31.6,29.9,31.0,30.4,28.9,31.9,30.0,31.3,29.5,31.4],
  [29.4,27.0,29.0,30.5,28.5,31.3,28.2,30.0,29.4,27.6,30.2,27.9,31.0,29.9,28.8,30.5,28.1,30.9,28.8,31.4,28.3,30.2,31.0,28.6,31.6,29.9,30.1,31.2,28.9,31.8,30.6,28.6,31.2,29.9,31.7,29.0,31.3,30.5,28.8,31.1,29.9,31.2,28.9,31.6,30.0,30.9,31.6,29.7,31.0,29.6],
  [30.7,28.6,31.3,27.6,30.0,28.6,31.6,28.4,29.6,31.2,28.7,30.9,29.9,31.3,28.3,30.2,29.8,31.4,30.0,28.3,30.7,29.2,31.1,28.7,31.1,29.9,28.9,31.1,30.3,28.8,31.3,30.4,28.6,31.2,29.6,31.7,29.6,31.1,29.0,31.8,29.3,31.6,30.1,29.7,31.7,29.3,31.3,30.6,29.0,31.6],
  [27.8,31.0,29.2,30.7,27.6,31.0,29.2,28.0,31.1,29.7,31.5,28.6,30.3,28.0,31.4,30.1,28.5,31.2,28.5,30.6,31.8,29.5,30.5,29.0,31.7,28.6,31.3,29.8,31.4,29.3,30.3,31.0,29.3,31.3,29.0,30.6,31.6,29.4,31.0,29.2,31.2,29.6,28.3,29.0,30.6,31.8,29.7,30.9,31.7,29.1],
  [30.6,28.6,27.1,30.8,28.2,29.8,31.0,27.9,29.4,30.6,29.3,31.1,28.9,31.4,29.0,31.0,29.4,27.5,31.6,29.4,30.9,28.6,31.3,30.6,29.5,31.3,29.7,31.7,29.4,31.2,29.5,31.6,29.4,30.6,31.5,29.7,31.0,29.9,32.0,29.4,31.0,30.2,31.6,29.4,31.2,29.5,30.8,32.0,29.5,30.9],
  [29.1,31.2,28.4,30.3,27.9,31.3,28.8,30.9,27.6,30.3,30.0,28.8,31.1,29.2,30.9,28.6,30.8,29.9,31.2,28.9,31.0,29.7,28.9,31.0,30.0,28.5,31.0,29.4,31.4,30.6,28.7,31.2,30.2,29.4,31.8,29.4,31.2,28.8,31.4,30.4,30.0,31.6,29.4,31.3,29.9,31.6,29.0,31.7,30.3,29.9],
  [28.0,30.1,28.7,31.0,29.6,27.7,30.2,27.8,31.0,28.4,31.1,28.8,30.3,28.5,31.4,28.6,29.9,31.6,29.4,30.3,29.0,31.5,29.7,31.0,28.8,31.3,29.9,31.1,28.9,31.4,31.1,29.7,31.5,29.2,30.8,29.8,31.4,29.1,31.4,29.2,28.5,28.9,30.8,31.1,29.4,31.6,29.9,31.5,30.0,29.9],
  [31.1,28.3,30.6,28.5,30.4,29.3,27.8,30.8,29.0,31.3,28.5,30.4,27.9,30.8,28.6,31.4,30.0,28.6,31.3,29.3,28.9,31.0,29.9,31.3,29.6,30.4,31.5,29.6,30.8,31.2,29.6,31.3,28.9,31.2,30.6,29.3,31.4,30.8,29.6,31.4,31.1,29.3,30.6,31.7,29.9,31.2,30.5,31.5,29.5,31.5],
];

// ---------- Right chart: histogram of mothers' age at birth in 2050 ----------
const histBinEdges: number[] = [28.55, 29.0, 29.44, 29.91, 30.36, 30.81, 31.26, 31.72, 32.17, 32.62, 33.08];
const histCounts: number[] = [2, 10, 18, 66, 111, 113, 106, 45, 19, 10];
const xTicksRight: number[] = [28, 29, 30, 31, 32, 33, 34];
const yTicksRight: number[] = [0, 20, 40, 60, 80, 100, 120];

const captionLeft = "Prognosejahr";
const captionRight = "Alter von Müttern bei Geburt (in 2050)";

const AXIS = "#1a1a1a";
const LABEL = "#262626";
const TICK_FONT = "'Liberation Sans', Arial, Helvetica, sans-serif";
const CAPTION_FONT = "'Liberation Serif', 'Times New Roman', serif";

export default function App() {
  // Left plot geometry
  const L = { x0: 83.5, x1: 545.5, y0: 42.5, y1: 407.5 };
  const xL = d3.scaleLinear().domain([0, 50]).range([L.x0, L.x1]);
  const yL = d3.scaleLinear().domain([24, 34]).range([L.y1, L.y0]);
  const lineGen = d3
    .line<number>()
    .x((_, i) => xL(years[i]))
    .y((d) => yL(d));

  // Right plot geometry
  const R = { x0: 685.5, x1: 1146.5, y0: 45.5, y1: 407.5 };
  const xR = d3.scaleLinear().domain([28, 34]).range([R.x0, R.x1]);
  const yR = d3.scaleLinear().domain([0, 120]).range([R.y1, R.y0]);

  const tickLen = 5;

  return (
    <svg
      width={1198}
      height={485}
      style={{ position: "absolute", left: 0, top: 0, background: "#ffffff" }}
    >
      {/* figure backgrounds */}
      <rect x={6} y={8} width={595} height={447} fill="#CCCCCC" />
      <rect x={608} y={11} width={590} height={444} fill="#CCCCCC" />

      {/* ---------- Left plot ---------- */}
      <rect x={L.x0} y={L.y0} width={L.x1 - L.x0} height={L.y1 - L.y0} fill="#ffffff" />
      <defs>
        <clipPath id="clipL">
          <rect x={L.x0} y={L.y0} width={L.x1 - L.x0} height={L.y1 - L.y0} />
        </clipPath>
      </defs>
      <g clipPath="url(#clipL)">
        {simulationRuns.map((run, i) => (
          <path
            key={i}
            d={lineGen(run) || ""}
            fill="none"
            stroke={runColors[i % runColors.length]}
            strokeWidth={1.3}
            strokeLinejoin="miter"
          />
        ))}
      </g>
      <rect x={L.x0} y={L.y0} width={L.x1 - L.x0} height={L.y1 - L.y0} fill="none" stroke={AXIS} strokeWidth={1} />
      {xTicksLeft.map((t) => (
        <g key={"xl" + t}>
          <line x1={xL(t)} x2={xL(t)} y1={L.y1} y2={L.y1 - tickLen} stroke={AXIS} />
          <line x1={xL(t)} x2={xL(t)} y1={L.y0} y2={L.y0 + tickLen} stroke={AXIS} />
          <text x={xL(t)} y={L.y1 + 16.5} textAnchor="middle" fontFamily={TICK_FONT} fontSize={13.5} fill={LABEL}>
            {t}
          </text>
        </g>
      ))}
      {yTicksLeft.map((t) => (
        <g key={"yl" + t}>
          <line x1={L.x0} x2={L.x0 + tickLen} y1={yL(t)} y2={yL(t)} stroke={AXIS} />
          <line x1={L.x1} x2={L.x1 - tickLen} y1={yL(t)} y2={yL(t)} stroke={AXIS} />
          <text x={L.x0 - 5} y={yL(t) + 5} textAnchor="end" fontFamily={TICK_FONT} fontSize={13.5} fill={LABEL}>
            {t}
          </text>
        </g>
      ))}

      {/* ---------- Right plot ---------- */}
      <rect x={R.x0} y={R.y0} width={R.x1 - R.x0} height={R.y1 - R.y0} fill="#ffffff" />
      {histCounts.map((c, i) => (
        <rect
          key={"bar" + i}
          x={xR(histBinEdges[i])}
          y={yR(c)}
          width={xR(histBinEdges[i + 1]) - xR(histBinEdges[i])}
          height={yR(0) - yR(c)}
          fill="#00008F"
          stroke="#000000"
          strokeWidth={1}
        />
      ))}
      <rect x={R.x0} y={R.y0} width={R.x1 - R.x0} height={R.y1 - R.y0} fill="none" stroke={AXIS} strokeWidth={1} />
      {xTicksRight.map((t) => (
        <g key={"xr" + t}>
          <line x1={xR(t)} x2={xR(t)} y1={R.y1} y2={R.y1 - tickLen} stroke={AXIS} />
          <line x1={xR(t)} x2={xR(t)} y1={R.y0} y2={R.y0 + tickLen} stroke={AXIS} />
          <text x={xR(t)} y={R.y1 + 16.5} textAnchor="middle" fontFamily={TICK_FONT} fontSize={13.5} fill={LABEL}>
            {t}
          </text>
        </g>
      ))}
      {yTicksRight.map((t) => (
        <g key={"yr" + t}>
          <line x1={R.x0} x2={R.x0 + tickLen} y1={yR(t)} y2={yR(t)} stroke={AXIS} />
          <line x1={R.x1} x2={R.x1 - tickLen} y1={yR(t)} y2={yR(t)} stroke={AXIS} />
          <text x={R.x0 - 5} y={yR(t) + 5} textAnchor="end" fontFamily={TICK_FONT} fontSize={13.5} fill={LABEL}>
            {t}
          </text>
        </g>
      ))}

      {/* captions */}
      <text x={196} y={480} fontFamily={CAPTION_FONT} fontSize={26.5} fill="#000">
        {captionLeft}
      </text>
      <text x={682} y={480} fontFamily={CAPTION_FONT} fontSize={26} fill="#000">
        {captionRight}
      </text>
    </svg>
  );
}
